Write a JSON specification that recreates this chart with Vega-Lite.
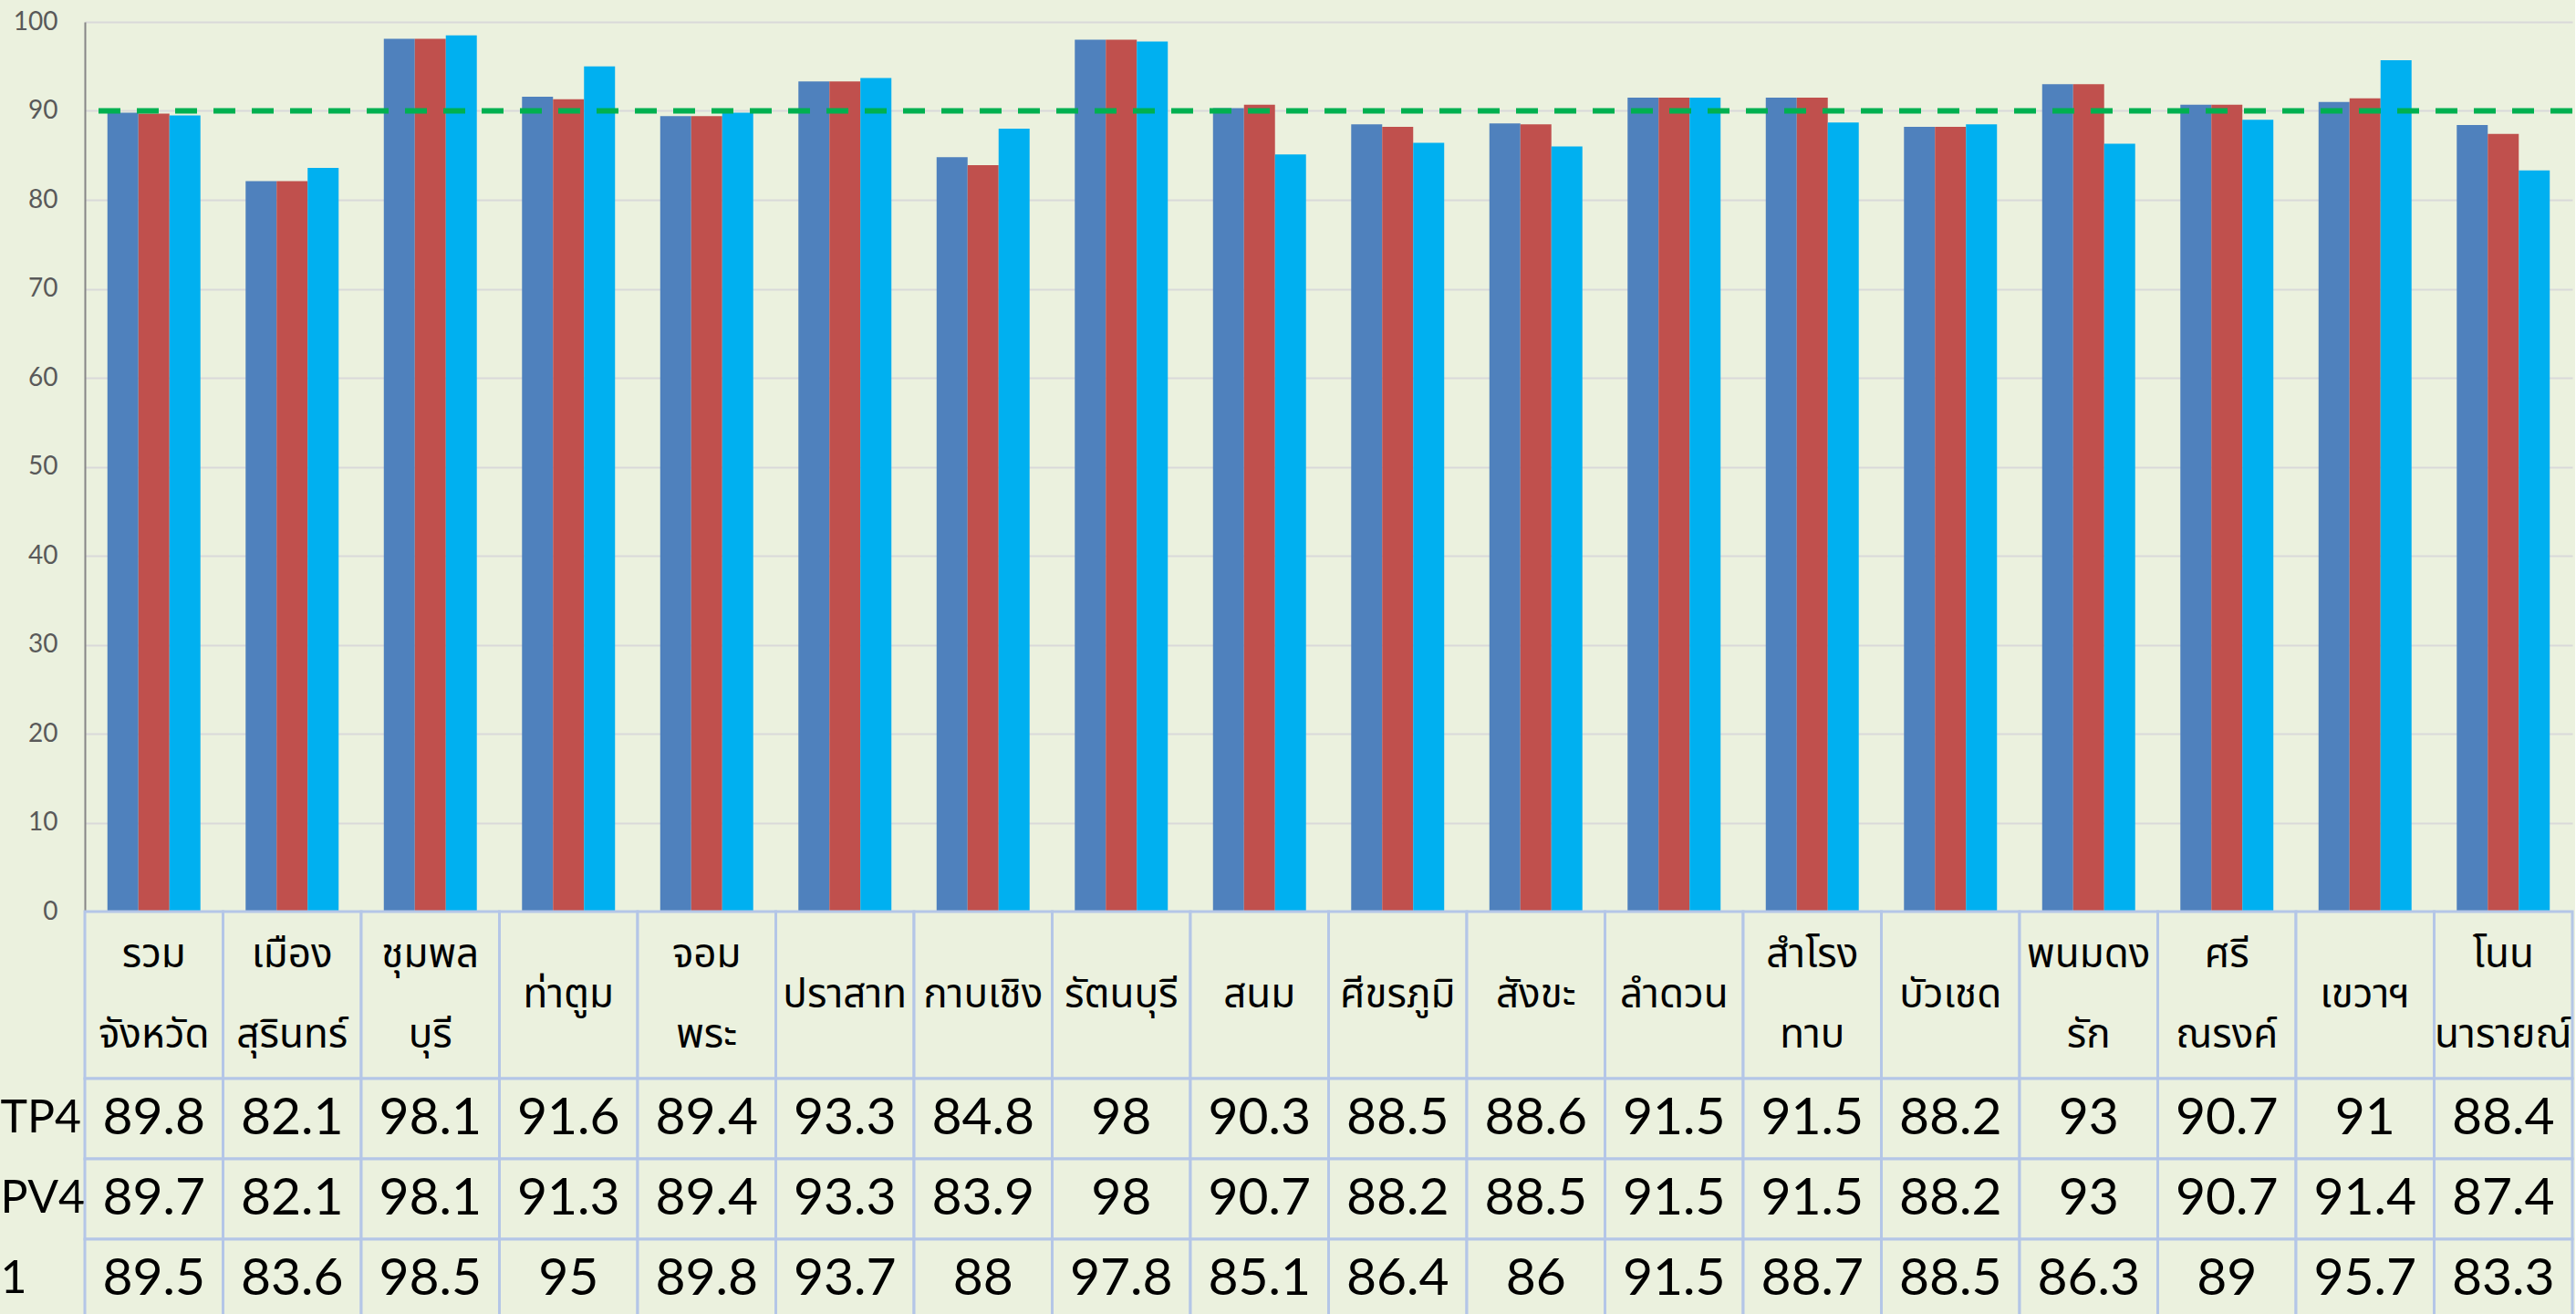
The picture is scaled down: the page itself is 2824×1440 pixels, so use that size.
{
  "$schema": "https://vega.github.io/schema/vega-lite/v6.json",
  "background": "#ebf1de",
  "padding": {"left": 0, "top": 10, "right": 0, "bottom": 0},
  "config": {"font": "Lato", "view": {"stroke": null}},
  "spacing": 0,
  "bounds": "flush",
  "resolve": {"scale": {"x": "independent"}},
  "datasets": {
    "d": [
      {"amphoe": "รวม\nจังหวัด", "series": "TP4", "value": 89.8},
      {"amphoe": "รวม\nจังหวัด", "series": "PV4", "value": 89.7},
      {"amphoe": "รวม\nจังหวัด", "series": "1", "value": 89.5},
      {"amphoe": "เมือง\nสุรินทร์", "series": "TP4", "value": 82.1},
      {"amphoe": "เมือง\nสุรินทร์", "series": "PV4", "value": 82.1},
      {"amphoe": "เมือง\nสุรินทร์", "series": "1", "value": 83.6},
      {"amphoe": "ชุมพล\nบุรี", "series": "TP4", "value": 98.1},
      {"amphoe": "ชุมพล\nบุรี", "series": "PV4", "value": 98.1},
      {"amphoe": "ชุมพล\nบุรี", "series": "1", "value": 98.5},
      {"amphoe": "ท่าตูม", "series": "TP4", "value": 91.6},
      {"amphoe": "ท่าตูม", "series": "PV4", "value": 91.3},
      {"amphoe": "ท่าตูม", "series": "1", "value": 95},
      {"amphoe": "จอม\nพระ", "series": "TP4", "value": 89.4},
      {"amphoe": "จอม\nพระ", "series": "PV4", "value": 89.4},
      {"amphoe": "จอม\nพระ", "series": "1", "value": 89.8},
      {"amphoe": "ปราสาท", "series": "TP4", "value": 93.3},
      {"amphoe": "ปราสาท", "series": "PV4", "value": 93.3},
      {"amphoe": "ปราสาท", "series": "1", "value": 93.7},
      {"amphoe": "กาบเชิง", "series": "TP4", "value": 84.8},
      {"amphoe": "กาบเชิง", "series": "PV4", "value": 83.9},
      {"amphoe": "กาบเชิง", "series": "1", "value": 88},
      {"amphoe": "รัตนบุรี", "series": "TP4", "value": 98},
      {"amphoe": "รัตนบุรี", "series": "PV4", "value": 98},
      {"amphoe": "รัตนบุรี", "series": "1", "value": 97.8},
      {"amphoe": "สนม", "series": "TP4", "value": 90.3},
      {"amphoe": "สนม", "series": "PV4", "value": 90.7},
      {"amphoe": "สนม", "series": "1", "value": 85.1},
      {"amphoe": "ศีขรภูมิ", "series": "TP4", "value": 88.5},
      {"amphoe": "ศีขรภูมิ", "series": "PV4", "value": 88.2},
      {"amphoe": "ศีขรภูมิ", "series": "1", "value": 86.4},
      {"amphoe": "สังขะ", "series": "TP4", "value": 88.6},
      {"amphoe": "สังขะ", "series": "PV4", "value": 88.5},
      {"amphoe": "สังขะ", "series": "1", "value": 86},
      {"amphoe": "ลำดวน", "series": "TP4", "value": 91.5},
      {"amphoe": "ลำดวน", "series": "PV4", "value": 91.5},
      {"amphoe": "ลำดวน", "series": "1", "value": 91.5},
      {"amphoe": "สำโรง\nทาบ", "series": "TP4", "value": 91.5},
      {"amphoe": "สำโรง\nทาบ", "series": "PV4", "value": 91.5},
      {"amphoe": "สำโรง\nทาบ", "series": "1", "value": 88.7},
      {"amphoe": "บัวเชด", "series": "TP4", "value": 88.2},
      {"amphoe": "บัวเชด", "series": "PV4", "value": 88.2},
      {"amphoe": "บัวเชด", "series": "1", "value": 88.5},
      {"amphoe": "พนมดง\nรัก", "series": "TP4", "value": 93},
      {"amphoe": "พนมดง\nรัก", "series": "PV4", "value": 93},
      {"amphoe": "พนมดง\nรัก", "series": "1", "value": 86.3},
      {"amphoe": "ศรี\nณรงค์", "series": "TP4", "value": 90.7},
      {"amphoe": "ศรี\nณรงค์", "series": "PV4", "value": 90.7},
      {"amphoe": "ศรี\nณรงค์", "series": "1", "value": 89},
      {"amphoe": "เขวาฯ", "series": "TP4", "value": 91},
      {"amphoe": "เขวาฯ", "series": "PV4", "value": 91.4},
      {"amphoe": "เขวาฯ", "series": "1", "value": 95.7},
      {"amphoe": "โนน\nนารายณ์", "series": "TP4", "value": 88.4},
      {"amphoe": "โนน\nนารายณ์", "series": "PV4", "value": 87.4},
      {"amphoe": "โนน\nนารายณ์", "series": "1", "value": 83.3}
    ]
  },
  "vconcat": [
    {
      "width": 2727,
      "height": 975,
      "layer": [
        {
          "data": {"name": "d"},
          "mark": {"type": "bar"},
          "encoding": {
            "x": {"field": "amphoe", "type": "nominal", "sort": null, "scale": {"paddingInner": 0.327, "paddingOuter": 0.1635}, "axis": null},
            "xOffset": {"field": "series", "type": "nominal", "sort": ["TP4", "PV4", "1"], "scale": {"paddingInner": 0, "paddingOuter": 0}},
            "y": {"field": "value", "type": "quantitative", "scale": {"domain": [0, 100], "nice": false},
              "axis": {"values": [0, 10, 20, 30, 40, 50, 60, 70, 80, 90, 100], "title": null, "grid": true, "gridColor": "#d9d9d9", "gridWidth": 2, "domainColor": "#868686", "domainWidth": 2, "ticks": false, "labelPadding": 30, "labelFontSize": 28, "labelColor": "#595959", "labelFont": "Lato"}},
            "color": {"field": "series", "type": "nominal", "scale": {"domain": ["TP4", "PV4", "1"], "range": ["#4f81bd", "#c0504d", "#00b0f0"]}, "legend": null}
          }
        },
        {
          "data": {"values": [{"target": 90}]},
          "mark": {"type": "rule", "color": "#00b050", "strokeWidth": 6, "strokeDash": [24, 18]},
          "encoding": {"y": {"field": "target", "type": "quantitative"}}
        }
      ]
    },
    {
      "width": 2727,
      "height": 183,
      "data": {"name": "d"},
      "transform": [{"filter": "datum.series === 'TP4'"}],
      "encoding": {
        "x": {"field": "amphoe", "type": "nominal", "sort": null, "scale": {"paddingInner": 0, "paddingOuter": 0}, "axis": null}
      },
      "layer": [
        {"mark": {"type": "rect", "fill": "#ebf1de", "stroke": "#b4c6e7", "strokeWidth": 3}},
        {"mark": {"type": "text", "lineBreak": "\n", "lineHeight": 88, "fontSize": 44, "font": "Noto Sans Thai, Loma, Garuda, Norasi, sans-serif", "baseline": "middle", "color": "#000000",
            "dy": {"expr": "indexof(datum.amphoe, '\\n') >= 0 ? -44 : 0"}},
          "encoding": {"text": {"field": "amphoe", "type": "nominal"}}}
      ]
    },
    {
      "width": 2727,
      "height": 264,
      "data": {"name": "d"},
      "encoding": {
        "x": {"field": "amphoe", "type": "nominal", "sort": null, "scale": {"paddingInner": 0, "paddingOuter": 0}, "axis": null},
        "y": {"field": "series", "type": "nominal", "sort": ["TP4", "PV4", "1"], "scale": {"paddingInner": 0, "paddingOuter": 0},
          "axis": {"title": null, "domain": false, "ticks": false, "labelAlign": "left", "labelPadding": 93, "labelFontSize": 50, "labelColor": "#000000", "labelFont": "Lato"}}
      },
      "layer": [
        {"mark": {"type": "rect", "fill": "#ebf1de", "stroke": "#b4c6e7", "strokeWidth": 3}},
        {"mark": {"type": "text", "fontSize": 57, "baseline": "middle", "color": "#000000"},
          "encoding": {"text": {"field": "value", "type": "quantitative"}}}
      ]
    }
  ]
}
